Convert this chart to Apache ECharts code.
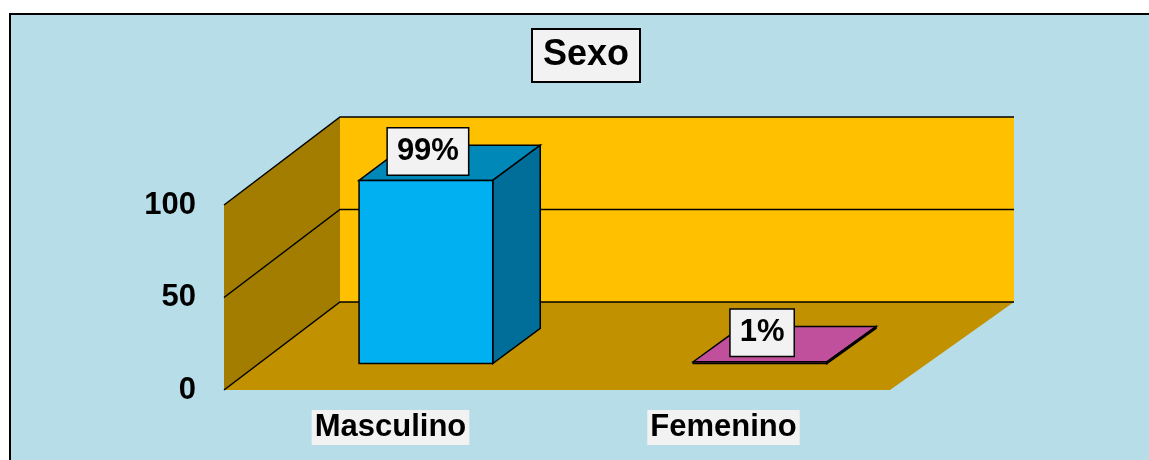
<!DOCTYPE html>
<html lang="es">
<head>
    <meta charset="UTF-8">
    <title>Sexo</title>
    <script src="https://cdn.jsdelivr.net/npm/echarts@6/dist/echarts.min.js"></script>
</head>
<style>
    *{
        margin: 0;
        padding: 0;
    }
    html,body{
        width: 100%;
        height: 100%;
        overflow: hidden;
        background: #fff;
    }
    .frame{
        position: absolute;
        left: 9px;
        top: 13px;
        width: 1200px;
        height: 500px;
        background: #B7DDE8;
        border-left: 2px solid #000;
        border-top: 2px solid #000;
    }
    .container{
        position: absolute;
        left: 0;
        top: 0;
        width: 1149px;
        height: 460px;
    }
</style>
<body>
<div class="frame"></div>
<div class="container"></div>
<script>
    // datos
    let categories = ['Masculino', 'Femenino'];
    let values = [99, 1];
    let yTicks = [0, 50, 100];

    // colores de cada barra: frente, arriba, lado
    let barColors = [
        ['#00B0F0', '#0088B8', '#006E98'],
        ['#C0509B', '#C0509B', '#8F3A73']
    ];

    // desplazamiento hacia el fondo (un poco mas a la derecha, perspectiva)
    let depthLeft = 116, depthRight = 124, depthY = -88;
    let font = 'Liberation Sans, Arial, sans-serif';

    let container = document.querySelector('.container');
    let mycharts = echarts.init(container);

    let gx0 = 0, gx1 = 1;
    // punto (x, y) del plano frontal llevado a la profundidad f (0..1)
    function proj(x, y, f) {
        let t = (x - gx0) / (gx1 - gx0);
        let dx = depthLeft + (depthRight - depthLeft) * t;
        return [x + f * dx, y + f * depthY];
    }

    function walls(params, api) {
        let cs = params.coordSys;
        gx0 = cs.x; gx1 = cs.x + cs.width;
        let x0 = gx0, x1 = gx1;
        let yb = api.coord([0, 0])[1];
        let yt = api.coord([0, yTicks[yTicks.length - 1]])[1];
        let children = [
            {
                type: 'polygon',
                shape: {points: [[x0, yt], proj(x0, yt, 1), proj(x0, yb, 1), [x0, yb]]},
                style: {fill: '#A37D00'}
            },
            {
                type: 'polygon',
                shape: {points: [proj(x0, yt, 1), proj(x1, yt, 1), proj(x1, yb, 1), proj(x0, yb, 1)]},
                style: {fill: '#FFC000'}
            },
            {
                type: 'polygon',
                shape: {points: [[x0, yb], proj(x0, yb, 1), proj(x1, yb, 1), [x1, yb]]},
                style: {fill: '#C29100'}
            }
        ];
        yTicks.forEach(t => {
            let y = api.coord([0, t])[1];
            children.push({
                type: 'polyline',
                shape: {points: [[x0, y], proj(x0, y, 1), proj(x1, y, 1)]},
                style: {stroke: '#000', lineWidth: 1.5, fill: null}
            });
        });
        return {type: 'group', children};
    }

    function bars(params, api) {
        let cs = params.coordSys;
        gx0 = cs.x; gx1 = cs.x + cs.width;
        let i = api.value(0);
        let v = api.value(1);
        let band = api.size([1, 0])[0];
        let base = api.coord([i, 0]);
        let top = api.coord([i, v]);
        let left = base[0] - band / 2;
        let bx0 = left + 0.3 * band, bx1 = left + 0.7 * band;
        let f0 = 0.3, f1 = 0.7;
        let yb = base[1], yv = top[1];
        let c = barColors[i];
        let line = {stroke: '#000', lineWidth: 1.5};
        let topFront = proj((bx0 + bx1) / 2, yv, f0);
        return {
            type: 'group',
            children: [
                {
                    type: 'polygon',
                    shape: {points: [proj(bx0, yv, f0), proj(bx0, yv, f1), proj(bx1, yv, f1), proj(bx1, yv, f0)]},
                    style: Object.assign({fill: c[1]}, line)
                },
                {
                    type: 'polygon',
                    shape: {points: [proj(bx1, yv, f0), proj(bx1, yv, f1), proj(bx1, yb, f1), proj(bx1, yb, f0)]},
                    style: Object.assign({fill: c[2]}, line)
                },
                {
                    type: 'polygon',
                    shape: {points: [proj(bx0, yv, f0), proj(bx1, yv, f0), proj(bx1, yb, f0), proj(bx0, yb, f0)]},
                    style: Object.assign({fill: c[0]}, line)
                },
                {
                    type: 'text',
                    x: topFront[0] + 2,
                    y: topFront[1] - 6,
                    style: {
                        text: v + '%',
                        font: 'bold 31px ' + font,
                        fill: '#000',
                        align: 'center',
                        verticalAlign: 'bottom',
                        lineHeight: 34,
                        backgroundColor: '#F2F2F2',
                        borderColor: '#000',
                        borderWidth: 1.5,
                        padding: [6, 9]
                    }
                }
            ]
        };
    }

    let option = {
        animation: false,
        backgroundColor: 'transparent',
        title: {
            text: 'Sexo',
            left: 532,
            top: 29,
            padding: [6, 11],
            backgroundColor: '#F2F2F2',
            borderColor: '#000',
            borderWidth: 2,
            textStyle: {
                fontFamily: font,
                fontWeight: 'bold',
                fontSize: 36,
                color: '#000',
                lineHeight: 41
            }
        },
        grid: {
            left: 224,
            top: 205,
            width: 666,
            height: 185,
            containLabel: false,
            outerBoundsMode: 'none'
        },
        xAxis: {
            type: 'category',
            data: categories,
            axisLine: {show: false},
            axisTick: {show: false},
            splitLine: {show: false},
            axisLabel: {
                margin: 20,
                fontFamily: font,
                fontWeight: 'bold',
                fontSize: 31,
                color: '#000',
                backgroundColor: '#F2F2F2',
                padding: [2, 3]
            }
        },
        yAxis: {
            type: 'value',
            min: 0,
            max: 100,
            interval: 50,
            axisLine: {show: false},
            axisTick: {show: false},
            splitLine: {show: false},
            axisLabel: {
                margin: 28,
                fontFamily: font,
                fontWeight: 'bold',
                fontSize: 31,
                color: '#000'
            }
        },
        series: [
            {
                type: 'custom',
                z: 1,
                silent: true,
                renderItem: walls,
                data: [[0, 0]]
            },
            {
                type: 'custom',
                z: 2,
                renderItem: bars,
                data: values.map((v, i) => [i, v])
            }
        ]
    };

    mycharts.setOption(option);
</script>
</body>
</html>
